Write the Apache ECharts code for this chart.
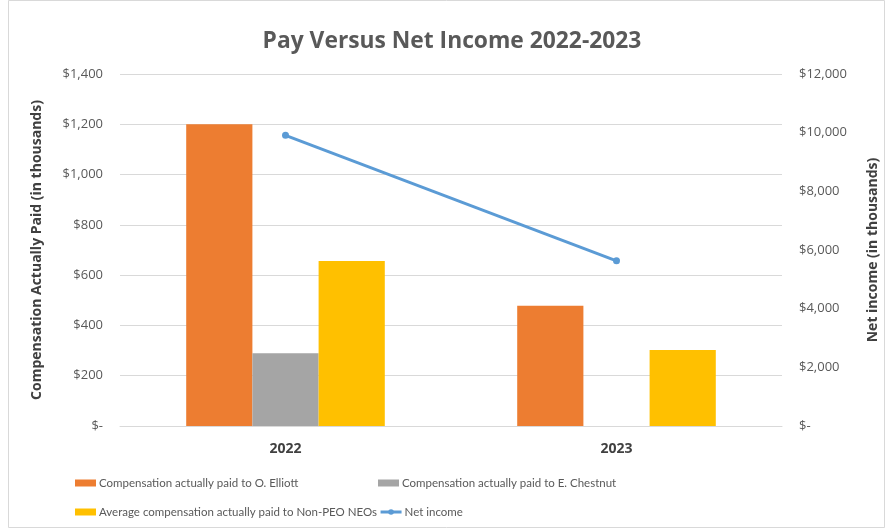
<!DOCTYPE html>
<html>
<head>
<meta charset="utf-8">
<script src="https://cdn.jsdelivr.net/npm/echarts@6/dist/echarts.min.js"></script>
<style>
html,body{margin:0;padding:0;background:#fff;}
#c{width:888px;height:529px;}
</style>
</head>
<body>
<div id="c"></div>
<script>
var categories = ['2022', '2023'];
var elliott = [1200, 478];
var chestnut = [289, null];
var nonPeo = [656, 302];
var netIncome = [9910, 5630];
var leftTicks = [0, 200, 400, 600, 800, 1000, 1200, 1400];
var rightTicks = [0, 2000, 4000, 6000, 8000, 10000, 12000];

var FONT = '"Open Sans", sans-serif';
var LFONT = 'Lato, "Open Sans", sans-serif';
function money(v) {
  if (v === 0) return '$-';
  return '$' + v.toLocaleString('en-US');
}
var names = [
  'Compensation actually paid to O. Elliott',
  'Compensation actually paid to E. Chestnut',
  'Average compensation actually paid to Non-PEO NEOs',
  'Net income'
];
var legStyle = {fontFamily: LFONT, fontSize: 11.5, color: '#595959', padding: [0, 0, 0, -2]};
function leg(items, left, top) {
  return {
    data: items,
    left: left, top: top,
    itemWidth: 21, itemHeight: 7,
    itemGap: 2, padding: 0,
    textStyle: legStyle,
    selectedMode: false
  };
}
var chart = echarts.init(document.getElementById('c'));
chart.setOption({
  animation: false,
  backgroundColor: '#fff',
  title: {
    text: 'Pay Versus Net Income 2022-2023',
    left: 447, top: 25, textAlign: 'center',
    textStyle: {fontFamily: FONT, fontSize: 22.8, fontWeight: 'bold', color: '#595959'}
  },
  graphic: [{
    type: 'rect', shape: {x: 8.5, y: 0.5, width: 876, height: 527},
    style: {fill: 'none', stroke: '#d9d9d9', lineWidth: 1}, silent: true
  }],
  legend: [
    leg([{name: names[0], icon: 'rect'}], 75, 477),
    leg([{name: names[1], icon: 'rect'}], 378, 477),
    leg([{name: names[2], icon: 'rect'},
         {name: names[3], itemStyle: {}, lineStyle: {width: 3}}], 75, 506)
  ],
  grid: {left: 120, right: 106, top: 74, bottom: 103},
  xAxis: {
    type: 'category', data: categories,
    axisLine: {lineStyle: {color: '#d9d9d9'}},
    axisTick: {show: false},
    axisLabel: {fontFamily: FONT, fontSize: 14, fontWeight: 'bold', color: '#404040', margin: 16}
  },
  yAxis: [{
    type: 'value', min: 0, max: 1400, interval: 200,
    name: 'Compensation Actually Paid (in thousands)',
    nameLocation: 'middle', nameGap: 76, nameRotate: 90,
    nameTextStyle: {fontFamily: FONT, fontSize: 14, fontWeight: 'bold', color: '#404040'},
    axisLine: {show: false}, axisTick: {show: false},
    axisLabel: {fontFamily: FONT, fontSize: 13, color: '#595959', margin: 17,
      formatter: function (v) { return leftTicks.indexOf(v) >= 0 ? money(v) : ''; }},
    splitLine: {lineStyle: {color: '#d9d9d9'}}
  }, {
    type: 'value', min: 0, max: 12000, interval: 2000, position: 'right',
    name: 'Net income (in thousands)',
    nameLocation: 'middle', nameGap: 84, nameRotate: 90,
    nameTextStyle: {fontFamily: FONT, fontSize: 14, fontWeight: 'bold', color: '#404040'},
    axisLine: {show: false}, axisTick: {show: false},
    axisLabel: {fontFamily: FONT, fontSize: 13, color: '#595959', margin: 17, align: 'left',
      formatter: function (v) { return rightTicks.indexOf(v) >= 0 ? money(v) : ''; }},
    splitLine: {show: false}
  }],
  series: [{
    name: names[0], type: 'bar', data: elliott, yAxisIndex: 0,
    barGap: '0%', barCategoryGap: '40%', itemStyle: {color: '#ed7d31'}
  }, {
    name: names[1], type: 'bar', data: chestnut, yAxisIndex: 0,
    barGap: '0%', barCategoryGap: '40%', itemStyle: {color: '#a5a5a5'}
  }, {
    name: names[2], type: 'bar', data: nonPeo, yAxisIndex: 0,
    barGap: '0%', barCategoryGap: '40%', itemStyle: {color: '#ffc000'}
  }, {
    name: names[3], type: 'line', data: netIncome, yAxisIndex: 1,
    symbol: 'circle', symbolSize: 7,
    lineStyle: {color: '#5b9bd5', width: 3}, itemStyle: {color: '#5b9bd5'}
  }]
});
</script>
</body>
</html>
